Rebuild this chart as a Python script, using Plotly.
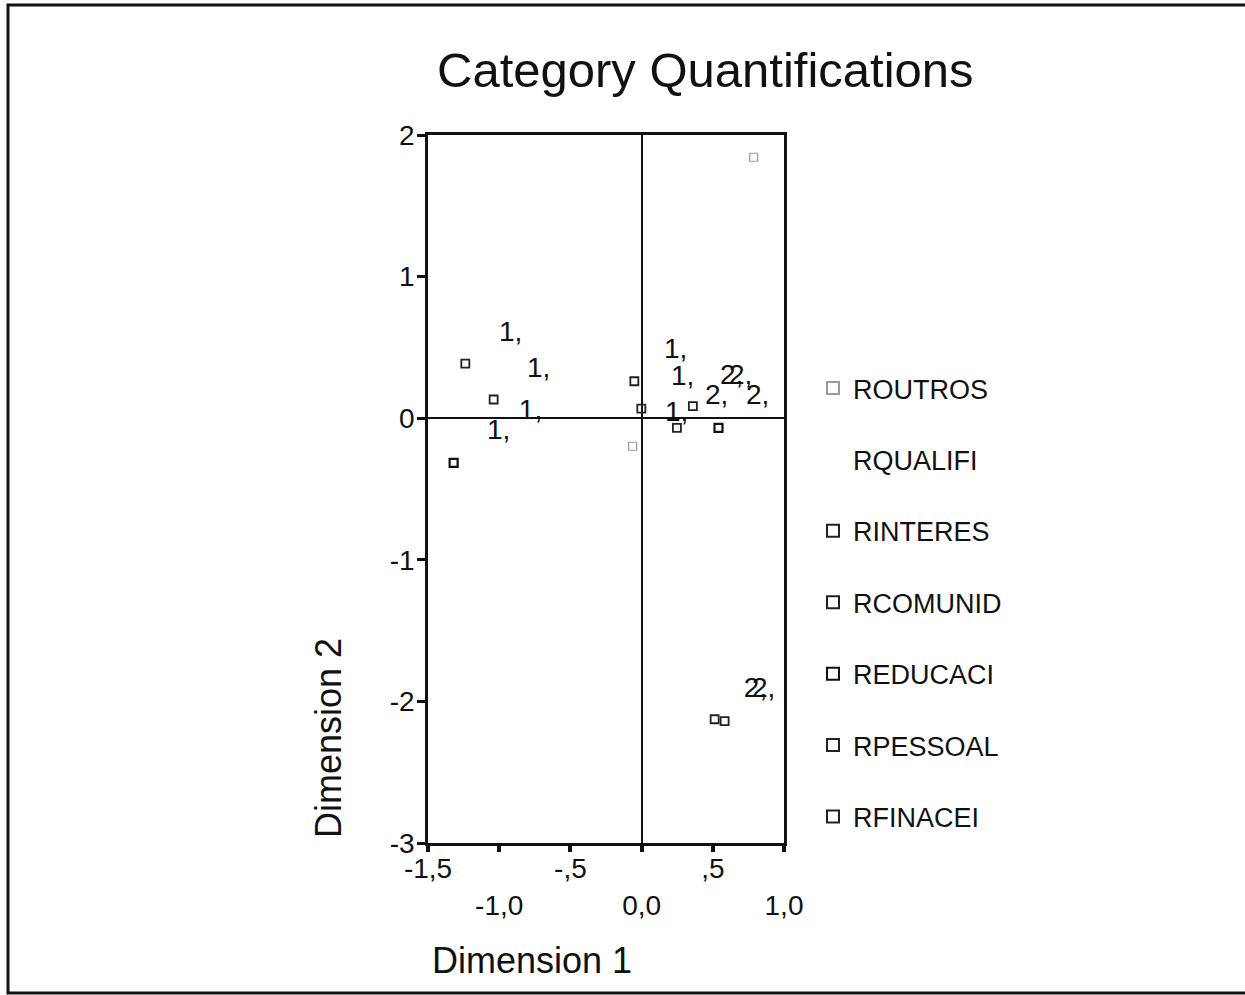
import plotly.graph_objects as go

# ---- data ----
series_names = ["ROUTROS", "RQUALIFI", "RINTERES", "RCOMUNID", "REDUCACI", "RPESSOAL", "RFINACEI"]
routros_x = [-0.063, 0.787]
routros_y = [-0.198, 1.843]
rqualifi_x = [None]          # markers not visible in the picture
rqualifi_y = [None]
rinteres_x = [-1.238, 0.248]
rinteres_y = [0.386, -0.068]
rcomunid_x = [-1.039, 0.360]
rcomunid_y = [0.132, 0.085]
reducaci_x = [-1.320, 0.540]
reducaci_y = [-0.316, -0.068]
rpessoal_x = [-0.051, 0.513]
rpessoal_y = [0.261, -2.126]
rfinacei_x = [-0.002, 0.583]
rfinacei_y = [0.068, -2.140]

label_x = [-0.92, -0.723, -0.78, -1.004, 0.239, 0.288, 0.246,
           0.527, 0.632, 0.695, 0.815, 1.046, 0.80, 0.857]
label_y = [0.593, 0.339, 0.042, -0.099, 0.473, 0.283, 0.028,
           0.148, 0.29, 0.29, 0.148, 2.07, -1.92, -1.92]
label_text = ["1,"] * 7 + ["2,"] * 7

x_tickvals = [-1.5, -1.0, -0.5, 0.0, 0.5, 1.0]
x_ticktext = ["-1,5", "<br>-1,0", "-,5", "<br>0,0", ",5", "<br>1,0"]
y_tickvals = [-3, -2, -1, 0, 1, 2]
y_ticktext = ["-3", "-2", "-1", "0", "1", "2"]

xs = [routros_x, rqualifi_x, rinteres_x, rcomunid_x, reducaci_x, rpessoal_x, rfinacei_x]
ys = [routros_y, rqualifi_y, rinteres_y, rcomunid_y, reducaci_y, rpessoal_y, rfinacei_y]
colors = ["#9a9a9a", "#ffffff", "#222222", "#222222", "#111111", "#222222", "#222222"]
widths = [1.2, 1.2, 1.8, 1.8, 2.2, 1.8, 1.8]

FONT = "Liberation Sans, Arial, sans-serif"

fig = go.Figure()
for i, name in enumerate(series_names):
    fig.add_trace(go.Scatter(
        x=xs[i], y=ys[i], mode="markers", name=name,
        legendgroup=name, showlegend=True,
        marker=dict(symbol="square-open", size=8, color=colors[i],
                    line=dict(width=widths[i], color=colors[i])),
        cliponaxis=False,
    ))

fig.add_trace(go.Scatter(
    x=label_x, y=label_y, mode="text", text=label_text,
    textfont=dict(family=FONT, size=28, color="#111111"),
    showlegend=False, cliponaxis=False, hoverinfo="skip",
))

W, H = 1245, 995
L, R, T, B = 428, 784, 135, 843
pw, ph = R - L, B - T

def px(xp):
    return (xp - L) / pw

def py(yp):
    return (B - yp) / ph

fig.update_layout(
    width=W, height=H,
    margin=dict(l=L, r=W - R, t=T, b=H - B, pad=0),
    paper_bgcolor="white", plot_bgcolor="white",
    font=dict(family=FONT, color="#111111"),
    showlegend=True,
    legend=dict(x=px(813), y=py(364), xanchor="left", yanchor="top",
                font=dict(family=FONT, size=27, color="#111111"),
                tracegroupgap=33.3, bgcolor="rgba(0,0,0,0)", itemsizing="constant"),
    xaxis=dict(range=[-1.5, 1.0], tickvals=x_tickvals, ticktext=x_ticktext,
               showgrid=False, zeroline=True, zerolinecolor="#111111", zerolinewidth=2,
               showline=True, linecolor="#111111", linewidth=2.5, mirror=True,
               ticks="outside", ticklen=6, tickwidth=4, tickcolor="#111111",
               ticklabelstandoff=-7,
               tickfont=dict(family=FONT, size=28, color="#111111")),
    yaxis=dict(range=[-3, 2], tickvals=y_tickvals, ticktext=y_ticktext,
               showgrid=False, zeroline=True, zerolinecolor="#111111", zerolinewidth=2,
               showline=True, linecolor="#111111", linewidth=2.5, mirror=True,
               ticks="outside", ticklen=8, tickwidth=3, tickcolor="#111111",
               ticklabelstandoff=-3,
               tickfont=dict(family=FONT, size=28, color="#111111")),
    annotations=[
        dict(text="Category Quantifications", x=px(705), y=py(70), xref="paper", yref="paper",
             xanchor="center", yanchor="middle", showarrow=False,
             font=dict(family=FONT, size=49, color="#111111")),
        dict(text="Dimension 1", x=px(430), y=py(960), xref="paper", yref="paper",
             xanchor="left", yanchor="middle", showarrow=False,
             font=dict(family=FONT, size=36, color="#111111")),
        dict(text="Dimension 2", x=px(328), y=py(840), xref="paper", yref="paper",
             xanchor="center", yanchor="bottom", showarrow=False, textangle=-90,
             font=dict(family=FONT, size=36, color="#111111")),
    ],
    shapes=[
        dict(type="rect", xref="paper", yref="paper",
             x0=px(8), x1=px(1260), y0=py(993), y1=py(5),
             line=dict(color="#111111", width=3)),
    ],
)

fig.write_html("out.html")
